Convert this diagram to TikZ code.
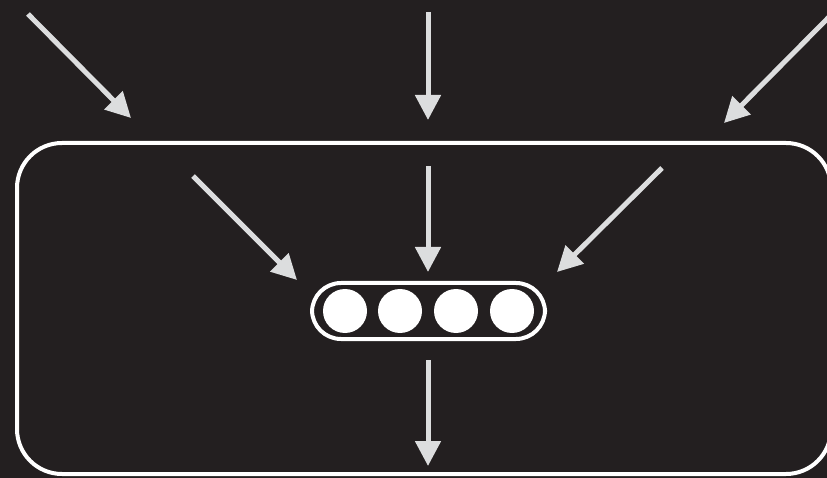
\documentclass[tikz,border=0pt]{standalone}
\usetikzlibrary{arrows.meta}
\definecolor{bgdark}{HTML}{231F20}
\definecolor{arrowgray}{HTML}{DCDDDE}

\begin{document}
\begin{tikzpicture}[
  x=1pt, y=-1pt,
  >={Triangle[length=25pt, width=25pt]},
  flow/.style={->, draw=arrowgray, fill=arrowgray, line width=5pt},
  frame/.style={draw=white, line width=4pt, rounded corners=45pt},
  pill/.style={draw=white, line width=4pt, rounded corners=29pt},
  dot/.style={circle, fill=white, minimum size=44pt, inner sep=0pt},
]
  % ---------------- background and clip
  \fill[bgdark] (0,0) rectangle (827,478);
  \useasboundingbox (0,0) rectangle (827,478);
  \clip (0,0) rectangle (827,478);

  % ---------------- outer box and the queue
  \draw[frame] (17,143) rectangle (831,474);
  \draw[pill] (312,283) rectangle (545,339);
  \foreach \i/\x in {1/345, 2/400, 3/456, 4/512}
    \node[dot] (c\i) at (\x,311) {};

  % ---------------- arrows in from outside
  \coordinate (oa) at (28,14);   \coordinate (ob) at (131,118);
  \coordinate (oc) at (428,12);  \coordinate (od) at (428,120);
  \coordinate (oe) at (830,16);  \coordinate (of) at (724,123);
  % ---------------- arrows inside the box
  \coordinate (ia) at (193,176); \coordinate (ib) at (297,280);
  \coordinate (ic) at (428,166); \coordinate (id) at (428,272);
  \coordinate (ie) at (662,168); \coordinate (if) at (557,272);
  \coordinate (oa2) at (428,360); \coordinate (ob2) at (428,466);
  \foreach \a/\b in {oa/ob, oc/od, oe/of, ia/ib, ic/id, ie/if, oa2/ob2}
    \draw[flow] (\a) -- (\b);
\end{tikzpicture}
\end{document}
